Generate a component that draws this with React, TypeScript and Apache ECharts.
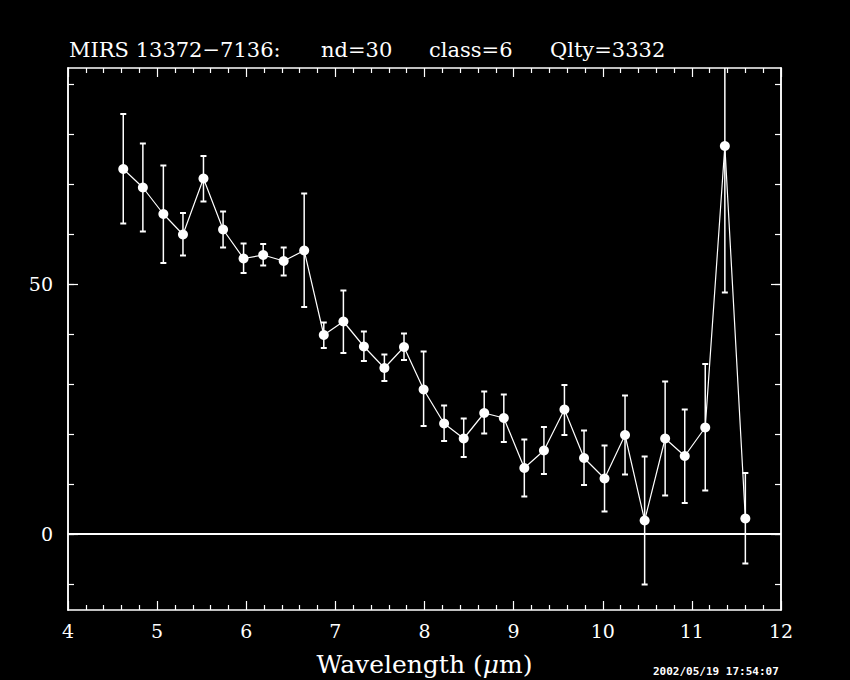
import React, { useEffect, useRef } from "react";
import * as echarts from "echarts";

// ---- data ----
const wavelength = [
  4.62, 4.84, 5.07, 5.29, 5.52, 5.74, 5.97, 6.19, 6.42, 6.65, 6.87, 7.09, 7.32, 7.55, 7.77, 7.99,
  8.22, 8.44, 8.67, 8.89, 9.12, 9.34, 9.57, 9.79, 10.02, 10.25, 10.47, 10.7, 10.92, 11.15, 11.37, 11.6,
];
const flux = [
  73.0, 69.3, 64.0, 59.9, 71.1, 60.9, 55.1, 55.8, 54.6, 56.7, 39.8, 42.5, 37.5, 33.2, 37.4, 28.9,
  22.1, 19.1, 24.2, 23.2, 13.2, 16.7, 24.9, 15.2, 11.1, 19.8, 2.7, 19.1, 15.6, 21.3, 77.6, 3.1,
];
const errLow = [
  62.1, 60.5, 54.2, 55.7, 66.5, 57.3, 52.2, 53.7, 51.7, 45.4, 37.2, 36.2, 34.6, 30.6, 34.8, 21.6,
  18.6, 15.4, 20.1, 18.4, 7.5, 12.0, 19.8, 9.8, 4.5, 11.9, -10.1, 7.7, 6.2, 8.7, 48.3, -5.9,
];
const errHigh = [
  84.0, 78.1, 73.7, 64.2, 75.6, 64.5, 58.1, 58.0, 57.3, 68.1, 42.3, 48.7, 40.5, 35.9, 40.1, 36.5,
  25.7, 23.1, 28.5, 27.9, 18.9, 21.4, 29.8, 20.7, 17.7, 27.7, 15.5, 30.5, 24.9, 34.0, 106.9, 12.2,
];
const yMajorTicks = [0, 50];
const yMinorTicks = [-10, 0, 10, 20, 30, 40, 50, 60, 70, 80, 90];
const X_MIN = 4;
const X_MAX = 12;
const Y_MIN = -15.2;
const Y_MAX = 93.2;

const titleParts = [
  { text: "MIRS 13372\u22127136:", x: 69 },
  { text: "nd=30", x: 321 },
  { text: "class=6", x: 429 },
  { text: "Qlty=3332", x: 550 },
];
const timestamp = "2002/05/19 17:54:07";

const SERIF = "'DejaVu Serif', 'Liberation Serif', serif";
const WHITE = "#ffffff";

export default function App() {
  const ref = useRef<HTMLDivElement>(null);

  useEffect(() => {
    document.body.style.margin = "0";
    document.body.style.background = "#000";
    if (!ref.current) return;
    const chart = echarts.init(ref.current, null, { renderer: "svg" });

    const axisLine = { show: true, onZero: false, lineStyle: { color: WHITE, width: 1.5 } };

    const xCommon = {
      type: "value" as const,
      min: X_MIN,
      max: X_MAX,
      interval: 1,
      axisLine,
      axisTick: { show: true, inside: true, length: 9, lineStyle: { color: WHITE, width: 1.2 } },
      minorTick: { show: true, splitNumber: 5, length: 5, lineStyle: { color: WHITE, width: 1.2 } },
      splitLine: { show: false },
      minorSplitLine: { show: false },
    };

    const yMajor = (position: "left" | "right", labels: boolean) => ({
      type: "value" as const,
      position,
      min: Y_MIN,
      max: Y_MAX,
      axisLine,
      axisTick: {
        show: true,
        inside: true,
        length: 10,
        customValues: yMajorTicks,
        lineStyle: { color: WHITE, width: 1.2 },
      },
      axisLabel: {
        show: labels,
        customValues: yMajorTicks,
        color: WHITE,
        fontSize: 19,
        fontFamily: SERIF,
        margin: 15,
      },
      splitLine: { show: false },
    });
    const yMinor = (position: "left" | "right") => ({
      type: "value" as const,
      position,
      min: Y_MIN,
      max: Y_MAX,
      axisLine,
      axisTick: {
        show: true,
        inside: true,
        length: 6,
        customValues: yMinorTicks,
        lineStyle: { color: WHITE, width: 1.2 },
      },
      axisLabel: { show: false },
      splitLine: { show: false },
    });

    const option: any = {
      animation: false,
      backgroundColor: "#000000",
      grid: {
        left: 68,
        top: 68,
        width: 713,
        height: 542,
        containLabel: false,
        outerBoundsMode: "none",
      },
      xAxis: [
        {
          ...xCommon,
          position: "bottom",
          axisLabel: {
            show: true,
            color: WHITE,
            fontSize: 19,
            fontFamily: SERIF,
            margin: 11,
          },
          name: "Wavelength ({i|\u03bc}m)",
          nameLocation: "middle",
          nameGap: 42,
          nameTextStyle: {
            color: WHITE,
            fontSize: 25,
            fontFamily: SERIF,
            rich: {
              i: { color: WHITE, fontSize: 25, fontFamily: SERIF, fontStyle: "italic" },
            },
          },
        },
        {
          ...xCommon,
          position: "top",
          axisLabel: { show: false },
        },
      ],
      yAxis: [yMajor("left", true), yMinor("left"), yMajor("right", false), yMinor("right")],
      graphic: [
        ...titleParts.map((p) => ({
          type: "text",
          left: p.x,
          top: 39,
          style: {
            text: p.text,
            fill: WHITE,
            font: `21px ${SERIF}`,
          },
        })),
        {
          type: "text",
          left: 653,
          top: 666,
          style: {
            text: timestamp,
            fill: WHITE,
            font: `bold 11px 'DejaVu Sans Mono', monospace`,
          },
        },
      ],
      series: [
        {
          type: "custom",
          xAxisIndex: 0,
          yAxisIndex: 0,
          clip: true,
          z: 2,
          data: wavelength.map((x, i) => [x, errLow[i], errHigh[i]]),
          encode: { x: 0, y: [1, 2] },
          renderItem: (_params: any, api: any) => {
            const x = api.value(0);
            const lo = api.value(1);
            const hi = api.value(2);
            const top = api.coord([x, Math.min(hi, Y_MAX)]);
            const bot = api.coord([x, Math.max(lo, Y_MIN)]);
            const style = { stroke: WHITE, lineWidth: 1.5 };
            const children: any[] = [
              { type: "line", shape: { x1: top[0], y1: top[1], x2: bot[0], y2: bot[1] }, style },
            ];
            const cap = 3;
            if (hi <= Y_MAX)
              children.push({
                type: "line",
                shape: { x1: top[0] - cap, y1: top[1], x2: top[0] + cap, y2: top[1] },
                style: { stroke: WHITE, lineWidth: 2 },
              });
            if (lo >= Y_MIN)
              children.push({
                type: "line",
                shape: { x1: bot[0] - cap, y1: bot[1], x2: bot[0] + cap, y2: bot[1] },
                style: { stroke: WHITE, lineWidth: 2 },
              });
            return { type: "group", children };
          },
        },
        {
          type: "line",
          xAxisIndex: 0,
          yAxisIndex: 0,
          z: 3,
          data: wavelength.map((x, i) => [x, flux[i]]),
          symbol: "circle",
          symbolSize: 10,
          showSymbol: true,
          itemStyle: { color: WHITE, borderWidth: 0 },
          lineStyle: { color: WHITE, width: 1.2 },
          markLine: {
            silent: true,
            symbol: ["none", "none"],
            label: { show: false },
            lineStyle: { color: WHITE, width: 2, type: "solid" },
            data: [{ yAxis: 0 }],
          },
        },
      ],
    };

    chart.setOption(option);
    return () => chart.dispose();
  }, []);

  return (
    <div
      ref={ref}
      style={{ position: "fixed", left: 0, top: 0, width: 850, height: 680, background: "#000" }}
    />
  );
}
